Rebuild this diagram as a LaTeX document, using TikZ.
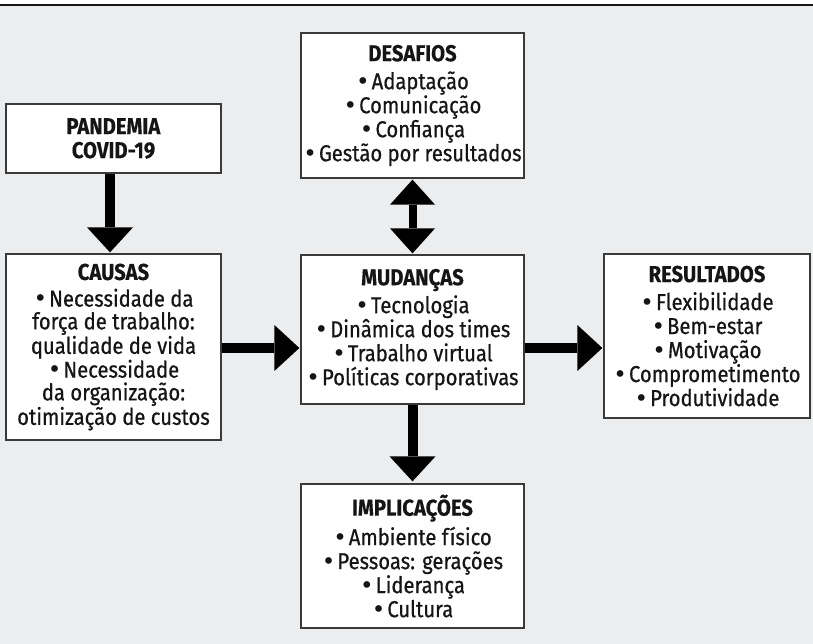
\documentclass[tikz,border=0pt]{standalone}
\usepackage{fontspec}
\setmainfont{Fira Sans}[FakeStretch=0.88, UprightFeatures={FakeBold=0.6}, BoldFeatures={FakeBold=0.3}]
\newfontfamily\bulfont{DejaVu Sans}[Scale=1.0]
\usetikzlibrary{arrows.meta,calc}
\definecolor{bggray}{HTML}{ECEDEF}
\definecolor{boxline}{HTML}{3A3A3A}
\definecolor{txt}{HTML}{151515}
\tikzset{
  box/.style={draw=boxline, line width=1.3pt, fill=white, align=center, inner sep=0pt,
    text=txt, font=\fontsize{23}{24}\selectfont},
  blockarrow/.style={line width=10pt, draw=black,
    -{Triangle[width=46pt,length=25pt,line width=0pt]}},
  dblarrow/.style={line width=8pt, draw=black,
    {Triangle[width=45pt,length=25pt,line width=0pt]}-{Triangle[width=45pt,length=25pt,line width=0pt]}}
}
\newcommand{\ttl}[1]{\textbf{#1}\\[4pt]}
\newcommand{\itm}{{\bulfont •}\hspace{2pt}}
\begin{document}
\begin{tikzpicture}[x=1pt,y=-1pt]
\useasboundingbox (0,0) rectangle (813,644);
\fill[white] (0,0) rectangle (813,644);
\fill[bggray] (0,5) rectangle (813,644);
\draw[line width=1.5pt, color=txt] (0,5) -- (813,5);

\node[box, minimum width=215pt, minimum height=69pt] (pand) at (113.5,138.5)
  {\textbf{PANDEMIA}\\\textbf{COVID-19}};
\node[box, minimum width=215pt, minimum height=186pt, font=\fontsize{23}{22.7}\selectfont] (caus) at (113.5,347)
  {\ttl{CAUSAS}\itm Necessidade da\\força de trabalho:\\qualidade de vida\\\itm Necessidade\\da organização:\\otimização de custos};
\node[box, minimum width=223pt, minimum height=145pt] (desa) at (412.5,105.5)
  {\ttl{DESAFIOS}\itm Adaptação\\\itm Comunicação\\\itm Confiança\\\itm Gestão por resultados};
\node[box, minimum width=223pt, minimum height=149pt] (muda) at (412.5,329.5)
  {\ttl{MUDANÇAS}\itm Tecnologia\\\itm Dinâmica dos times\\\itm Trabalho virtual\\\itm Políticas corporativas};
\node[box, minimum width=223pt, minimum height=144pt] (impl) at (412.5,556)
  {\ttl{IMPLICAÇÕES}\itm Ambiente físico\\\itm Pessoas: gerações\\\itm Liderança\\\itm Cultura};
\node[box, minimum width=206pt, minimum height=164pt] (resu) at (707,336)
  {\ttl{RESULTADOS}\itm Flexibilidade\\\itm Bem-estar\\\itm Motivação\\\itm Comprometimento\\\itm Produtividade};

\coordinate (ax1) at (110,0);
\coordinate (ay1) at (0,348);
\draw[blockarrow, shorten >=1pt] (pand.south -| ax1) -- (caus.north -| ax1);
\draw[blockarrow, shorten >=1pt] (caus.east |- ay1) -- (muda.west |- ay1);
\draw[blockarrow, shorten >=1pt] (muda.east |- ay1) -- (resu.west |- ay1);
\draw[dblarrow, shorten <=1pt, shorten >=1pt] (desa.south) -- (muda.north);
\draw[blockarrow, shorten >=2pt] (muda.south) -- (impl.north);
\end{tikzpicture}
\end{document}
